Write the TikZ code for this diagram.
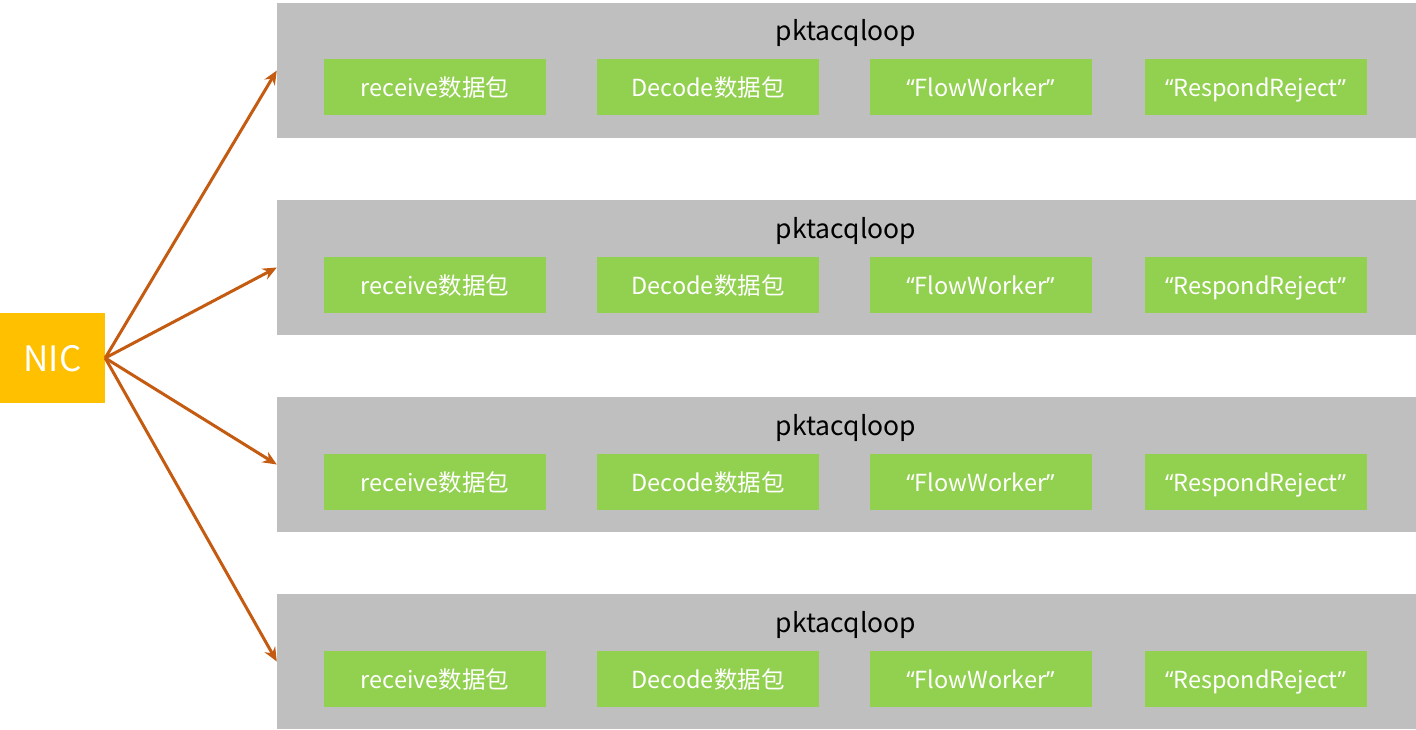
\documentclass[tikz,border=0pt]{standalone}
\usepackage{fontspec}
\setmainfont{Noto Sans CJK SC}
\newfontfamily\latinq{Noto Sans}
\usetikzlibrary{arrows.meta}
\definecolor{rowgray}{HTML}{BFBFBF}
\definecolor{stepgreen}{HTML}{92D050}
\definecolor{nicorange}{HTML}{FFC000}
\definecolor{arrowbrown}{HTML}{C55A11}
\tikzset{
  rowbox/.style={fill=rowgray, draw=none, minimum width=1139pt, minimum height=135pt, inner sep=0pt},
  stepbox/.style={fill=stepgreen, draw=none, minimum width=222pt, minimum height=56pt, inner sep=0pt,
    text height=21pt, text depth=2pt, text=white, font=\fontsize{23.5}{26}\selectfont},
  titletext/.style={text=black, font=\fontsize{26.5}{30}\selectfont, inner sep=0pt, anchor=base},
  nicbox/.style={fill=nicorange, draw=none, minimum width=105pt, minimum height=90pt, inner sep=0pt,
    text height=28pt, text depth=2pt, text=white, font=\fontsize{35}{40}\selectfont},
  feed/.style={draw=arrowbrown, line width=3pt, -{Stealth[length=14pt,width=12pt]}}
}
\begin{document}
\begin{tikzpicture}[x=1pt,y=-1pt]
\useasboundingbox (0,0) rectangle (1416,730);
\node[nicbox] (nic) at (52.5,358) {NIC};
\foreach \i/\top in {1/3,2/200,3/397,4/594}{
  \node[rowbox] (row\i) at (846.5,\top+67.5) {};
  \node[titletext] (title\i) at (846,\top+38) {pktacqloop};
  \node[stepbox] (recv\i) at (435,\top+84.5) {receive数据包};
  \node[stepbox] (dec\i) at (708,\top+84.5) {Decode数据包};
  \node[stepbox] (flow\i) at (980.5,\top+84.5) {{\latinq “}FlowWorker{\latinq ”}};
  \node[stepbox] (resp\i) at (1255.5,\top+84.5) {{\latinq “}RespondReject{\latinq ”}};
  \draw[feed] (nic.east) -- (row\i.west);
}
\end{tikzpicture}
\end{document}
